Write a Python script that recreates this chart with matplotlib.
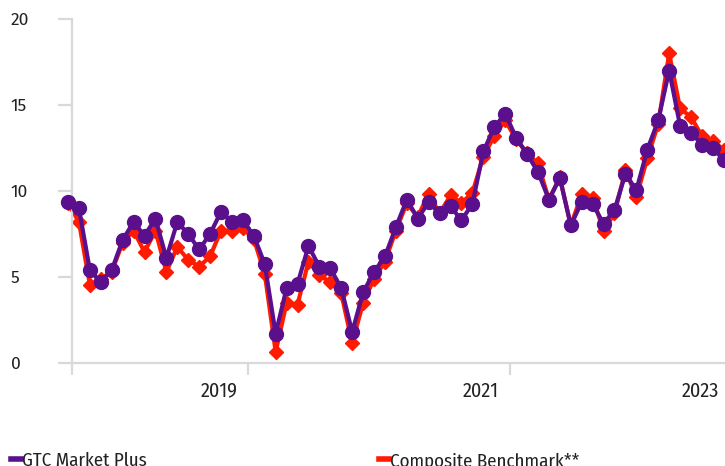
import matplotlib
matplotlib.use("Agg")
import matplotlib.pyplot as plt
from matplotlib.lines import Line2D

# monthly values
gtc_market_plus = [9.36, 9.0, 5.4, 4.7, 5.4, 7.15, 8.2, 7.4, 8.4, 6.1,
                   8.2, 7.5, 6.6, 7.5, 8.8, 8.2, 8.3, 7.4, 5.75, 1.7,
                   4.36, 4.6, 6.8, 5.6, 5.5, 4.36, 1.8, 4.1, 5.3, 6.2,
                   7.9, 9.5, 8.4, 9.35, 8.7, 9.1, 8.3, 9.25, 12.3, 13.7,
                   14.5, 13.1, 12.15, 11.1, 9.5, 10.75, 8.0, 9.36, 9.25, 8.1,
                   8.9, 11.0, 10.05, 12.4, 14.1, 17.0, 13.8, 13.4, 12.7, 12.5,
                   11.8]
composite_benchmark = [9.3, 8.2, 4.55, 4.9, 5.3, 7.0, 7.7, 6.45, 7.7, 5.3,
                       6.75, 6.0, 5.6, 6.2, 7.7, 7.7, 7.85, 7.2, 5.2, 0.65,
                       3.5, 3.4, 5.9, 5.1, 4.7, 4.05, 1.15, 3.5, 4.9, 5.9,
                       7.7, 9.3, 8.5, 9.85, 8.7, 9.75, 9.3, 9.9, 12.0, 13.2,
                       14.1, 13.0, 12.2, 11.6, 9.5, 10.8, 8.0, 9.8, 9.6, 7.7,
                       8.7, 11.2, 9.65, 11.9, 13.9, 18.0, 14.8, 14.3, 13.2, 12.9,
                       12.4]
months = list(range(len(gtc_market_plus)))

year_tick_pos = [16.47, 40.44]
year_labels = ["2019", "2021", "2023"]
year_label_pos = [13.8, 37.8, 57.9]
y_ticks = [0, 5, 10, 15, 20]

purple = "#5a0f8c"
red = "#ff1a00"
grey = "#d9d9d9"
txt = "#222222"
narrow = ["Fira Sans Condensed", "DejaVu Sans"]

fig = plt.figure(figsize=(7.25, 4.66), dpi=100)
ax = fig.add_axes([72 / 725, 1 - 363 / 466, 653 / 725, 344 / 466])

ax.plot(months, composite_benchmark, color=red, lw=3, marker="D", ms=7.5,
        clip_on=False, zorder=2)
ax.plot(months, gtc_market_plus, color=purple, lw=3, marker="o", ms=10,
        clip_on=False, zorder=3)

ax.set_xlim(0.366, 60.11)
ax.set_ylim(0, 20)

for s in ["top", "right"]:
    ax.spines[s].set_visible(False)
for s in ["left", "bottom"]:
    ax.spines[s].set_color(grey)
    ax.spines[s].set_linewidth(1.6)

ax.set_yticks(y_ticks)
ax.set_yticklabels([str(v) for v in y_ticks], family=["Fira Sans", "DejaVu Sans"],
                   fontsize=12.5, color=txt)
ax.tick_params(axis="y", length=10, width=1.6, color=grey, pad=34)
for lab in ax.get_yticklabels():
    lab.set_horizontalalignment("left")

ax.set_xticks([0.366] + year_tick_pos)
ax.set_xticklabels([])
ax.tick_params(axis="x", which="major", length=8.6, width=1.6, color=grey)
ax.set_xticks(year_label_pos, minor=True)
ax.set_xticklabels(year_labels, minor=True, family=narrow, fontsize=14.5,
                   color=txt)
ax.tick_params(axis="x", which="minor", length=0, pad=13)

font = {"family": narrow, "size": 13.6}
leg1 = fig.legend(handles=[Line2D([], [], color=purple, lw=4)],
                  labels=["GTC Market Plus"], loc="lower left",
                  bbox_to_anchor=(11 / 725, -0.008), frameon=False,
                  borderpad=0, borderaxespad=0, handlelength=0.55,
                  handletextpad=0.05, prop=font)
for t in leg1.get_texts():
    t.set_color(txt)
leg2 = fig.legend(handles=[Line2D([], [], color=red, lw=4)],
                  labels=["Composite Benchmark**"], loc="lower left",
                  bbox_to_anchor=(379 / 725, -0.008), frameon=False,
                  borderpad=0, borderaxespad=0, handlelength=0.55,
                  handletextpad=0.05, prop=font)
for t in leg2.get_texts():
    t.set_color(txt)

fig.savefig("out.png", dpi=100)
